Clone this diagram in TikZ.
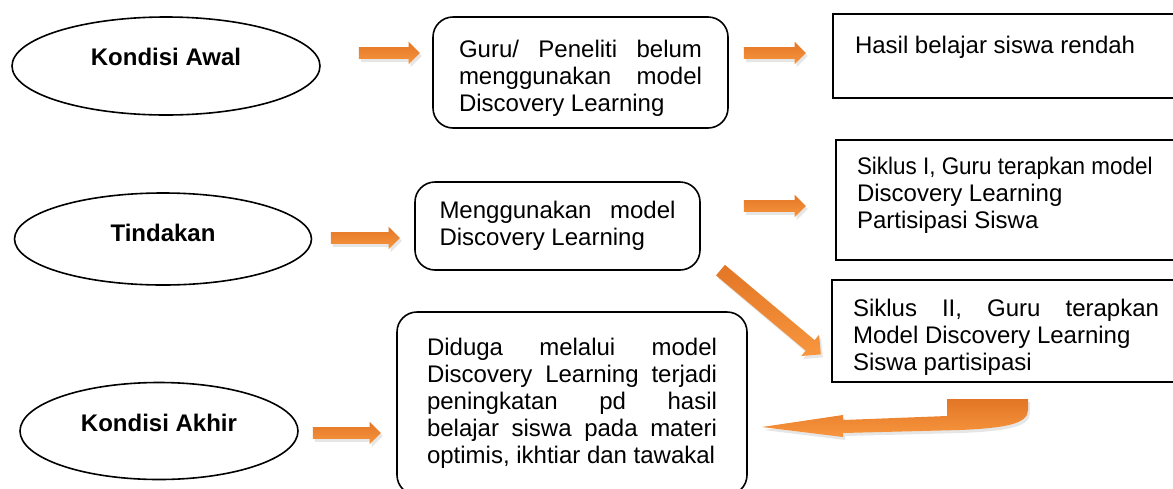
\documentclass[tikz,border=0pt]{standalone}
\usepackage{fontspec}
\setmainfont{Liberation Sans}
\usetikzlibrary{shapes.geometric,shapes.arrows,shadows}

\definecolor{arrowdark}{RGB}{226,118,38}
\definecolor{arrowlight}{RGB}{248,150,62}
\newcommand{\jline}[1]{\makebox[\hsize][s]{\spaceskip=0.278em plus 1fil #1}}

\begin{document}
\begin{tikzpicture}[
    x=0.5pt, y=-0.5pt,
    every node/.style={font=\fontsize{12}{13.5}\selectfont},
    stage/.style={ellipse, draw, line width=0.8pt, font=\fontsize{12}{13.5}\selectfont\bfseries},
    roundbox/.style={rectangle, draw, line width=0.8pt, rounded corners=10pt, align=flush left},
    plainbox/.style={rectangle, draw, line width=0.8pt, align=flush left},
    blockarrow/.style={single arrow, draw=none, inner sep=0pt, text height=2.75pt, text depth=2.75pt,
        single arrow head extend=2.75pt, top color=arrowdark, bottom color=arrowlight,
        drop shadow={shadow xshift=1pt, shadow yshift=-1.5pt, opacity=0.2}}
]
\useasboundingbox (0,0) rectangle (1173,488);

    % Stages
    \node[stage, minimum width=154pt, minimum height=49pt, text depth=9pt] (awal) at (166,66) {Kondisi Awal};
    \node[stage, minimum width=148.5pt, minimum height=46pt, text depth=6pt] (tindakan) at (163,239) {Tindakan};
    \node[stage, minimum width=139pt, minimum height=48.5pt, text depth=8pt] (akhir) at (159,431) {Kondisi Akhir};

    % Kondisi awal
    \node[roundbox, minimum width=147.5pt, minimum height=55.5pt, text width=121.5pt] (guru) at (580.5,72.5)
        {\rule{0pt}{14pt}\jline{Guru/ Peneliti belum}\\ \jline{menggunakan model}\\ Discovery Learning};
    \node[plainbox, minimum width=173.5pt, minimum height=42pt, text width=151.5pt, text depth=11.6pt] (hasil) at (1006.5,56)
        {Hasil belajar siswa rendah};

    % Tindakan
    \node[roundbox, minimum width=142.5pt, minimum height=44pt, text width=118pt] (model) at (557.5,226)
        {\jline{Menggunakan model}\\ Discovery Learning};
    \node[plainbox, minimum width=172pt, minimum height=60pt, text width=151pt] (siklus1) at (1008,200)
        {\scalebox{0.935}[1]{Siklus I, Guru terapkan model}\\ Discovery Learning\\ Partisipasi Siswa\rule[-7.5pt]{0pt}{7.5pt}};
    \node[plainbox, minimum width=174pt, minimum height=49pt, text width=153pt] (siklus2) at (1006,331)
        {\rule{0pt}{15pt}\jline{Siklus II, Guru terapkan}\\ Model Discovery Learning\\ Siswa partisipasi};

    % Kondisi akhir
    \node[roundbox, minimum width=175pt, minimum height=91.5pt, text width=145pt] (diduga) at (572,403.5)
        {\jline{Diduga melalui model}\\ \jline{Discovery Learning terjadi}\\ \jline{peningkatan pd hasil}\\
         \jline{belajar siswa pada materi}\\ optimis, ikhtiar dan tawakal};

    % Arrows
    \node[blockarrow, minimum height=30.5pt] (a1) at (386.5,53) {};
    \node[blockarrow, minimum height=31pt] (a2) at (772,53) {};
    \node[blockarrow, minimum height=34.5pt] (a3) at (362.5,238) {};
    \node[blockarrow, minimum height=31pt] (a4) at (772,206) {};
    \node[blockarrow, minimum height=65.5pt, text height=3.25pt, text depth=3.25pt,
        single arrow head extend=3.5pt, rotate=-40] (a5) at (768,310) {};
    \node[blockarrow, minimum height=34pt] (a6) at (344,433) {};

    % Arrow back to the conclusion
    \shade[top color=arrowdark, bottom color=arrowlight, drop shadow={shadow xshift=1pt, shadow yshift=-1.5pt, opacity=0.2}]
        (762,427) -- (843,415) -- (843,420) -- (947,416) -- (947,399) -- (1028,399) -- (1028,410)
        .. controls (1028,424) and (1005,428) .. (960,430) -- (843,433) -- (843,437) -- cycle;

\end{tikzpicture}
\end{document}
